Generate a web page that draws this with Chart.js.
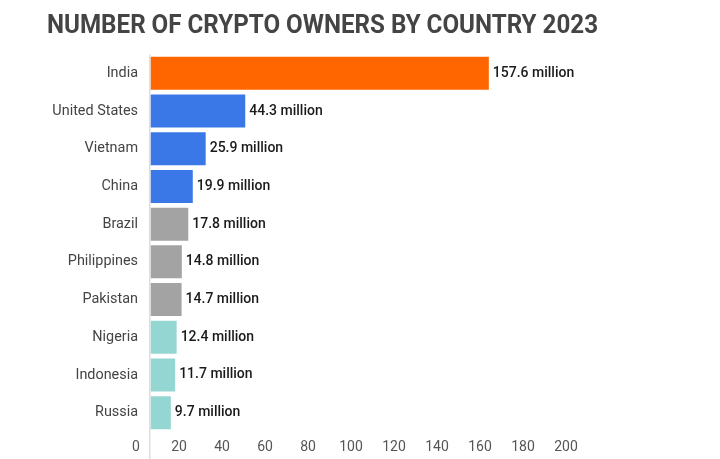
<!DOCTYPE html>
<html>
<head>
<meta charset="utf-8">
<script src="https://cdn.jsdelivr.net/npm/chart.js@4/dist/chart.umd.min.js"></script>
<style>
html,body{margin:0;padding:0;background:#fff;}
#wrap{width:720px;height:459px;position:relative;}
</style>
</head>
<body>
<div id="wrap"><canvas id="c"></canvas></div>
<script>
const titleText = 'NUMBER OF CRYPTO OWNERS BY COUNTRY 2023';
const countries = ['India','United States','Vietnam','China','Brazil','Philippines','Pakistan','Nigeria','Indonesia','Russia'];
const owners = [157.6, 44.3, 25.9, 19.9, 17.8, 14.8, 14.7, 12.4, 11.7, 9.7];
const unitLabel = 'million';
const xTicks = [0,20,40,60,80,100,120,140,160,180,200];
const barColors = ['#FF6600','#3B78E7','#3B78E7','#3B78E7','#A3A3A3','#A3A3A3','#A3A3A3','#94D6D1','#94D6D1','#94D6D1'];

const valueLabels = {
  id: 'valueLabels',
  afterDatasetsDraw(chart) {
    const ctx = chart.ctx;
    const meta = chart.getDatasetMeta(0);
    ctx.save();
    ctx.font = '500 14px Roboto';
    ctx.fillStyle = '#1a1a1a';
    ctx.textAlign = 'left';
    ctx.textBaseline = 'middle';
    meta.data.forEach((bar, i) => {
      ctx.fillText(owners[i] + ' ' + unitLabel, bar.x + 4, bar.y);
    });
    ctx.restore();
  }
};

new Chart(document.getElementById('c'), {
  type: 'bar',
  data: {
    labels: countries,
    datasets: [{
      data: owners,
      backgroundColor: barColors,
      borderWidth: 0,
      categoryPercentage: 0.875,
      barPercentage: 1.0
    }]
  },
  plugins: [valueLabels],
  options: {
    indexAxis: 'y',
    responsive: true,
    maintainAspectRatio: false,
    animation: false,
    layout: { padding: { left: 47, right: 122, top: 0, bottom: 0 } },
    plugins: {
      legend: { display: false },
      tooltip: { enabled: false },
      title: {
        display: true,
        text: titleText,
        align: 'start',
        color: '#444444',
        font: { family: 'Roboto', size: 26, weight: 'bold', lineHeight: 1.2 },
        padding: { top: 11, bottom: 12.3 }
      }
    },
    scales: {
      x: {
        min: 0,
        max: 200,
        afterFit: s => { s.height = 27.5; },
        afterBuildTicks: s => { s.ticks = xTicks.map(v => ({ value: v })); },
        border: { display: false },
        grid: {
          drawOnChartArea: true,
          drawTicks: true,
          tickLength: 28,
          lineWidth: 1.5,
          color: c => (c.tick && c.tick.value === 0) ? '#dddddd' : 'rgba(0,0,0,0)'
        },
        ticks: {
          padding: -20,
          labelOffset: -14,
          maxRotation: 0,
          autoSkip: false,
          color: '#555555',
          font: { family: 'Roboto', size: 14 }
        }
      },
      y: {
        afterFit: s => { s.width = 103; },
        border: { display: false },
        grid: { display: false, drawTicks: false },
        ticks: {
          padding: 12,
          color: '#444444',
          font: { family: 'Roboto', size: 14.4 }
        }
      },
      yRight: {
        type: 'linear',
        axis: 'y',
        position: 'right',
        display: true,
        afterFit: s => { s.width = 18; },
        border: { display: false },
        grid: { display: false, drawTicks: false },
        ticks: { display: false }
      }
    }
  }
});
</script>
</body>
</html>
